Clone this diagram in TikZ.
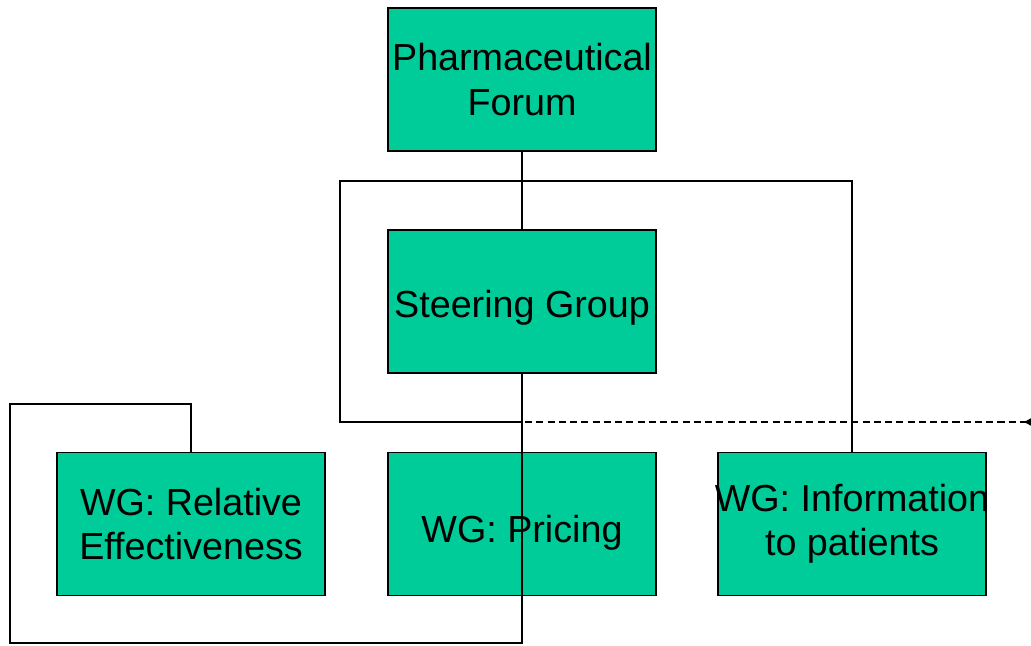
\documentclass[tikz,border=0pt]{standalone}
\usepackage{fontspec}
\setmainfont{Liberation Sans}
\usetikzlibrary{arrows.meta}
\definecolor{boxgreen}{HTML}{00CC99}
\tikzset{
  orgbox/.style={draw=black, line width=1pt, fill=boxgreen, minimum width=6.7cm,
    minimum height=3.575cm, align=center, inner sep=0pt,
    font=\fontsize{26.8}{31.5}\selectfont},
  lowtext/.style={text depth=5.6pt, text height=#1},
  link/.style={line width=1pt}
}
\begin{document}
\begin{tikzpicture}[x=0.025cm, y=-0.025cm]

   \useasboundingbox (0,0) rectangle (1031,645);

   % boxes
   \node [orgbox] (forum) at (522,79.5) {Pharmaceutical\\Forum};
   \node [orgbox, lowtext=28pt] (steer) at (522,301.5) {Steering Group};
   \node [orgbox] (relEff) at (191,524) {WG: Relative\\Effectiveness};
   \node [orgbox, lowtext=32pt] (pricing) at (522,524) {WG: Pricing};
   \node [orgbox] (info) at (852,524) {\makebox[6.5cm]{WG: Information}\\to patients};

   % corners of the loops
   \coordinate (upTL) at (340,181);
   \coordinate (upBR) at (522,422);
   \coordinate (lowBL) at (10,643);
   \coordinate (lowTL) at (10,404);
   \coordinate (dashEnd) at (1031,422);

   % connectors
   \draw [link](forum.south)--(steer.north);
   \draw [link](info.north) |- (upTL) |- (upBR);
   \draw [link](steer.south) |- (lowBL)--(lowTL) -| (relEff.north);
   \draw [link, dash pattern=on 5pt off 3pt, -{Latex[reversed, length=2mm, width=2mm]}](525,422)--(dashEnd);

\end{tikzpicture}
\end{document}
